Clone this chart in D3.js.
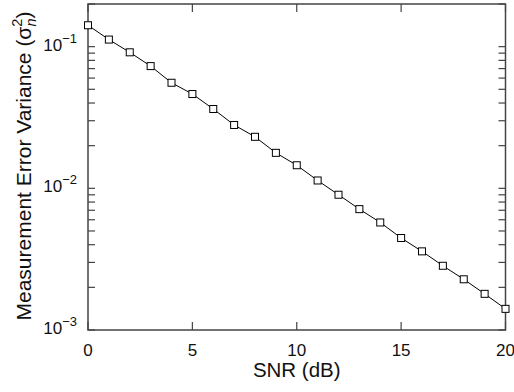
<!DOCTYPE html>
<html><head><meta charset="utf-8">
<script src="https://cdn.jsdelivr.net/npm/d3@7"></script>
<style>
body{margin:0;background:#fff;}
text{font-family:"Liberation Sans",Arial,Helvetica,sans-serif;fill:#111;}
</style></head>
<body><svg id="c" width="514" height="392"></svg>
<script>
const snr = [0,1,2,3,4,5,6,7,8,9,10,11,12,13,14,15,16,17,18,19,20];
const variance = [0.1416,0.1122,0.0912,0.0729,0.0556,0.0463,0.0363,0.0280,0.0231,0.0178,0.01455,0.01136,0.00901,0.00713,0.00574,0.00446,0.00359,0.00284,0.00228,0.00180,0.00141];
const xTicks = [0,5,10,15,20];
const yMajor = [{v:1e-3,e:"−3"},{v:1e-2,e:"−2"},{v:1e-1,e:"−1"}];

const svg = d3.select("#c");
const L=88,R=505.5,T=4,B=330;
const x = d3.scaleLinear().domain([0,20]).range([L,R]);
const y = d3.scaleLog().domain([1e-3,0.2]).range([B,T]);
const axisCol="#444";

const yTickVals=[];
for(let d=-3; d<=-1; d++) for(let m=1;m<=9;m++){const v=m*Math.pow(10,d); if(v>=1e-3 && v<=0.2) yTickVals.push(v);}
const tl=7;
svg.append("g").selectAll("line").data(yTickVals).join("line")
 .attr("x1",L).attr("x2",L+tl).attr("y1",d=>y(d)).attr("y2",d=>y(d))
 .attr("stroke",axisCol).attr("stroke-width",1.2);
svg.append("g").selectAll("line").data(yTickVals).join("line")
 .attr("x1",R).attr("x2",R-tl).attr("y1",d=>y(d)).attr("y2",d=>y(d))
 .attr("stroke",axisCol).attr("stroke-width",1.2);
svg.append("g").selectAll("line").data(xTicks).join("line")
 .attr("x1",d=>x(d)).attr("x2",d=>x(d)).attr("y1",B).attr("y2",B-8)
 .attr("stroke",axisCol).attr("stroke-width",1.2);
svg.append("g").selectAll("line").data(xTicks).join("line")
 .attr("x1",d=>x(d)).attr("x2",d=>x(d)).attr("y1",T).attr("y2",T+8)
 .attr("stroke",axisCol).attr("stroke-width",1.2);

svg.append("rect").attr("x",L).attr("y",T).attr("width",R-L).attr("height",B-T)
 .attr("fill","none").attr("stroke",axisCol).attr("stroke-width",1.5);

svg.append("g").selectAll("text").data(xTicks).join("text")
 .attr("x",d=>x(d)).attr("y",355.5).attr("text-anchor","middle")
 .attr("font-size",17).text(d=>d);

const yl = svg.append("g").selectAll("text").data(yMajor).join("text")
 .attr("x",77).attr("y",d=>y(d.v)+4).attr("text-anchor","end").attr("font-size",17);
yl.append("tspan").text("10");
yl.append("tspan").attr("dy",-8).attr("font-size",13).text(d=>d.e);

const line = d3.line().x((d,i)=>x(snr[i])).y(d=>y(d));
svg.append("path").datum(variance).attr("d",line).attr("fill","none").attr("stroke","#000").attr("stroke-width",1);
svg.append("g").selectAll("rect").data(variance).join("rect")
 .attr("x",(d,i)=>x(snr[i])-3.5).attr("y",d=>y(d)-3.5).attr("width",7).attr("height",7)
 .attr("fill","#fff").attr("stroke","#000").attr("stroke-width",1);

svg.append("text").attr("x",(L+R)/2).attr("y",377).attr("text-anchor","middle").attr("font-size",20.5).text("SNR (dB)");
const yt = svg.append("text").attr("transform","translate(31,166) rotate(-90)").attr("text-anchor","middle").attr("font-size",21);
yt.append("tspan").text("Measurement Error Variance (σ");
yt.append("tspan").attr("dy",-9).attr("font-size",14.5).text("2");
yt.append("tspan").attr("dx",-8).attr("dy",13.5).attr("font-size",14.5).attr("font-style","italic").text("n");
yt.append("tspan").attr("dy",-4.5).text(")");
</script></body></html>
